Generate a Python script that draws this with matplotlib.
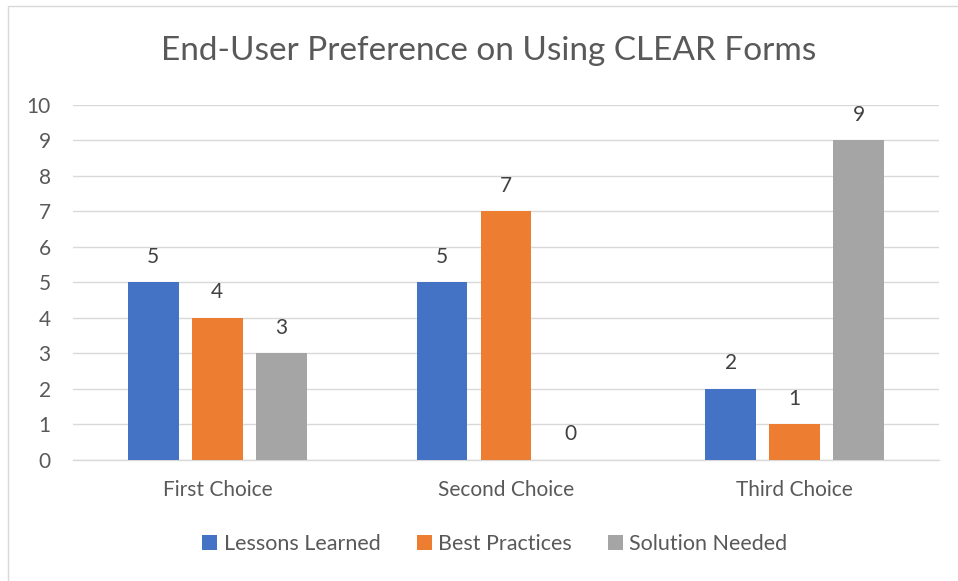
import matplotlib
matplotlib.use("Agg")
import matplotlib.pyplot as plt
import numpy as np
from matplotlib.patches import Rectangle

categories = ["First Choice", "Second Choice", "Third Choice"]
series_names = ["Lessons Learned", "Best Practices", "Solution Needed"]
lessons_learned = [5, 5, 2]
best_practices = [4, 7, 1]
solution_needed = [3, 0, 9]
colors = ["#4472C4", "#ED7D31", "#A5A5A5"]
title = "End-User Preference on Using CLEAR Forms"

plt.rcParams['font.family'] = ['Lato', 'DejaVu Sans']
TXT = "#595959"

W, H = 958, 581
fig = plt.figure(figsize=(W/100, H/100), dpi=100)
fig.patch.set_facecolor("white")

# chart border
fig.add_artist(Rectangle((8/W, -0.05), 1.2, (H-6)/H + 0.05, transform=fig.transFigure,
                         fill=False, edgecolor="#D9D9D9", linewidth=1.0))

ax = fig.add_axes([73/W, (H-459.5)/H, (939-73)/W, (459.5-105)/H])
x = np.arange(len(categories))
bw = 0.175
step = 0.2217
all_vals = [lessons_learned, best_practices, solution_needed]
handles = []
for i, (vals, c, name) in enumerate(zip(all_vals, colors, series_names)):
    bars = ax.bar(x + (i-1)*step, vals, width=bw, color=c, label=name, zorder=3)
    handles.append(bars)
    for xi, v in zip(x + (i-1)*step, vals):
        ax.annotate(str(v), (xi, v), xytext=(0, 11), textcoords="offset points",
                    ha="center", va="bottom", fontsize=15, color="#404040")

ax.set_xlim(-0.5, 2.5)
ax.set_ylim(0, 10)
ax.set_yticks(range(0, 11))
ax.set_xticks(x)
ax.set_xticklabels(categories)
ax.grid(axis="y", color="#D9D9D9", linewidth=1.0, zorder=0)
for s in ["top", "right", "left"]:
    ax.spines[s].set_visible(False)
ax.spines["bottom"].set_color("#D9D9D9")
ax.spines["bottom"].set_linewidth(1.0)
ax.tick_params(axis="both", length=0, labelsize=15, colors=TXT)
ax.tick_params(axis="y", pad=16)
ax.tick_params(axis="x", pad=15)

fig.text(489/W, 1 - 51/H, title, ha="center", va="center", fontsize=24, color=TXT)

leg = fig.legend(handles=handles, loc="center", bbox_to_anchor=(495/W, 1 - 544/H),
                 ncol=3, frameon=False, fontsize=15.5, handlelength=0.68, handleheight=0.68,
                 handletextpad=0.3, columnspacing=1.7, labelcolor=TXT)

fig.savefig("out.png", dpi=100, facecolor="white")
